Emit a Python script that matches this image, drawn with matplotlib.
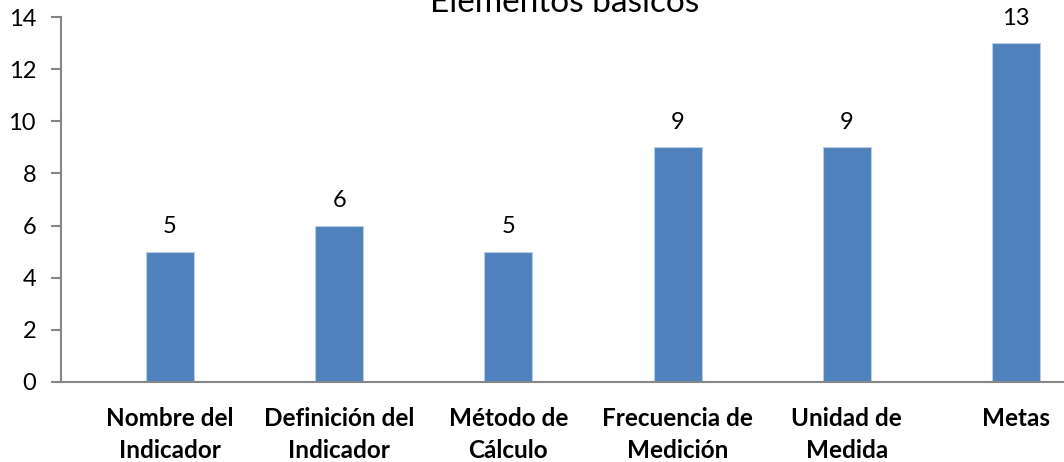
import numpy as np
import matplotlib
matplotlib.use('Agg')
import matplotlib.pyplot as plt

categorias = ['Nombre del\nIndicador', 'Definición del\nIndicador', 'Método de\nCálculo',
              'Frecuencia de\nMedición', 'Unidad de\nMedida', 'Metas']
valores = [5, 6, 5, 9, 9, 13]
titulo = 'Elementos básicos'

plt.rcParams['font.family'] = ['Lato', 'DejaVu Sans']

fig = plt.figure(figsize=(10.64, 4.62), dpi=100)
ax = fig.add_axes([61/1064, 80/462, 1003/1064, 365/462])

x = np.arange(len(valores))
bars = ax.bar(x, valores, width=0.284, color='#4F81BD', edgecolor='#B9CDE5', linewidth=0.8)

for xi, v in zip(x, valores):
    ax.annotate(str(v), (xi, v), xytext=(0, 18), textcoords='offset points',
                ha='center', va='center', fontsize=17, color='black')

ax.set_xlim(-0.644, 5.284)
ax.set_ylim(0, 14)
ax.set_yticks(range(0, 15, 2))
ax.set_xticks(x)
ax.set_xticklabels(categorias, fontsize=17.5, fontweight='bold', linespacing=1.5, va='top')

for s in ['top', 'right']:
    ax.spines[s].set_visible(False)
for s in ['left', 'bottom']:
    ax.spines[s].set_color('#868686')
    ax.spines[s].set_linewidth(1.5)

ax.tick_params(axis='y', length=7, width=1.5, color='#868686', labelsize=17, pad=11)
ax.tick_params(axis='x', length=0, pad=18)

fig.text(565/1064, (462-12)/462, titulo, ha='center', va='baseline', fontsize=24)

fig.savefig('out.png', dpi=100)
